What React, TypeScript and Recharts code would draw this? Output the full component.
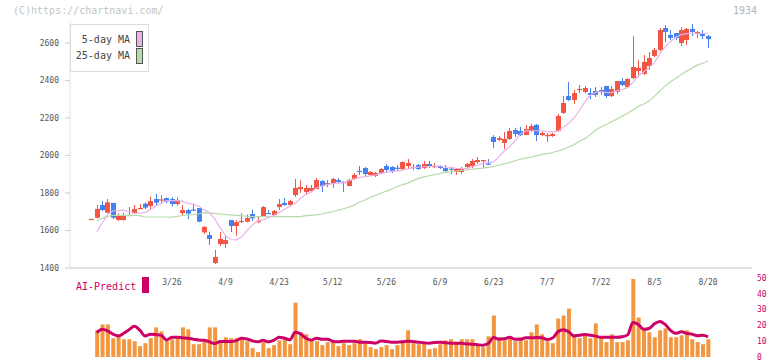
import React from 'react';
import { ComposedChart, Bar, Line, XAxis, YAxis } from 'recharts';

const MONO = '"DejaVu Sans Mono", "Liberation Mono", monospace';

const dateLabels = ['3/26', '4/9', '4/23', '5/12', '5/26', '6/9', '6/23', '7/7', '7/22', '8/5', '8/20'];
const dateLabelIdx = [15, 25, 35, 45, 55, 65, 75, 85, 95, 105, 115];

const opens = [
  1660, 1668, 1736, 1695, 1747, 1656, 1656, 1680, 1692, 1716, 1743, 1731, 1768, 1761, 1773, 1768, 1741, 1693, 1709, 1712,
  1720, 1590, 1576, 1427, 1528, 1528, 1656, 1624, 1648, 1647, 1688, 1648, 1677, 1693, 1683, 1725, 1747, 1736, 1789, 1821,
  1805, 1811, 1821, 1864, 1843, 1848, 1869, 1857, 1837, 1875, 1918, 1933, 1896, 1891, 1907, 1944, 1939, 1935, 1928, 1944,
  1937, 1949, 1933, 1955, 1939, 1944, 1933, 1930, 1912, 1912, 1939, 1944, 1965, 1976, 1957, 2099, 2083, 2067, 2088, 2136,
  2131, 2109, 2131, 2163, 2109, 2104, 2104, 2131, 2227, 2317, 2296, 2352, 2339, 2333, 2344, 2349, 2371, 2317, 2339, 2397,
  2365, 2413, 2451, 2435, 2477, 2531, 2563, 2680, 2643, 2653, 2600, 2616, 2675, 2648, 2648, 2637,
];
const closes = [
  1662, 1715, 1709, 1750, 1668, 1683, 1683, 1683, 1715, 1720, 1722, 1757, 1748, 1766, 1754, 1741, 1763, 1709, 1690, 1709,
  1647, 1619, 1555, 1459, 1555, 1549, 1624, 1645, 1651, 1667, 1665, 1651, 1725, 1690, 1704, 1741, 1736, 1757, 1827, 1832,
  1827, 1827, 1869, 1837, 1853, 1875, 1859, 1859, 1869, 1896, 1915, 1901, 1912, 1907, 1928, 1923, 1917, 1933, 1965, 1960,
  1939, 1928, 1955, 1944, 1944, 1933, 1917, 1928, 1928, 1933, 1955, 1971, 1976, 1976, 1955, 2072, 2093, 2088, 2131, 2115,
  2109, 2141, 2157, 2109, 2120, 2109, 2115, 2211, 2280, 2296, 2333, 2355, 2360, 2323, 2323, 2339, 2317, 2355, 2397, 2376,
  2408, 2472, 2467, 2499, 2520, 2563, 2669, 2659, 2627, 2627, 2669, 2675, 2659, 2659, 2637, 2621,
];
const highs = [
  1662, 1736, 1757, 1768, 1747, 1692, 1695, 1725, 1736, 1741, 1750, 1779, 1795, 1789, 1775, 1777, 1777, 1736, 1715, 1741,
  1720, 1624, 1594, 1496, 1592, 1571, 1656, 1656, 1692, 1685, 1711, 1672, 1731, 1709, 1709, 1768, 1773, 1763, 1875, 1869,
  1843, 1843, 1880, 1869, 1869, 1880, 1880, 1864, 1875, 1907, 1944, 1939, 1917, 1912, 1933, 1955, 1944, 1949, 1968, 1981,
  1955, 1955, 1971, 1971, 1960, 1949, 1949, 1939, 1933, 1939, 1960, 1981, 1992, 1976, 1981, 2109, 2104, 2125, 2147, 2147,
  2152, 2163, 2168, 2168, 2125, 2120, 2120, 2221, 2317, 2392, 2349, 2376, 2371, 2360, 2365, 2365, 2371, 2371, 2397, 2413,
  2413, 2637, 2509, 2536, 2552, 2573, 2680, 2696, 2669, 2653, 2685, 2680, 2701, 2664, 2669, 2643,
];
const lows = [
  1658, 1665, 1704, 1692, 1661, 1652, 1652, 1679, 1692, 1715, 1713, 1715, 1736, 1745, 1745, 1728, 1733, 1683, 1661, 1704,
  1644, 1581, 1523, 1421, 1517, 1507, 1592, 1571, 1640, 1644, 1651, 1640, 1677, 1688, 1677, 1709, 1731, 1731, 1779, 1800,
  1789, 1805, 1821, 1805, 1832, 1827, 1853, 1805, 1837, 1869, 1896, 1885, 1891, 1885, 1901, 1912, 1907, 1917, 1923, 1928,
  1923, 1923, 1928, 1933, 1933, 1928, 1912, 1901, 1896, 1901, 1933, 1933, 1955, 1933, 1949, 2040, 2077, 2035, 2083, 2099,
  2104, 2109, 2125, 2077, 2104, 2072, 2099, 2125, 2221, 2290, 2275, 2333, 2333, 2301, 2312, 2323, 2307, 2312, 2328, 2371,
  2360, 2408, 2419, 2429, 2456, 2525, 2557, 2605, 2616, 2616, 2584, 2589, 2637, 2627, 2621, 2573,
];
const ma5 = [
  null, 1594, 1640, 1685, 1704, 1706, 1709, 1700, 1692, 1692, 1697, 1712, 1730, 1745, 1759, 1759, 1759, 1755, 1745, 1741,
  1729, 1710, 1695, 1662, 1615, 1572, 1552, 1550, 1565, 1600, 1630, 1650, 1657, 1670, 1680, 1696, 1713, 1730, 1745, 1772,
  1793, 1806, 1828, 1838, 1845, 1850, 1853, 1855, 1864, 1876, 1882, 1887, 1891, 1897, 1905, 1910, 1915, 1918, 1922, 1928,
  1935, 1938, 1940, 1941, 1944, 1943, 1940, 1936, 1932, 1930, 1930, 1940, 1948, 1958, 1963, 1966, 1994, 2025, 2045, 2080,
  2115, 2131, 2132, 2132, 2130, 2127, 2126, 2130, 2150, 2172, 2200, 2240, 2285, 2320, 2337, 2340, 2337, 2335, 2345, 2352,
  2362, 2390, 2425, 2445, 2470, 2495, 2540, 2580, 2607, 2630, 2645, 2650, 2652, 2652, 2652, 2652,
];
const ma25 = [
  null, 1651, 1665, 1675, 1680, 1681, 1681, 1681, 1681, 1679, 1672, 1672, 1672, 1672, 1672, 1671, 1675, 1680, 1683, 1685,
  1688, 1695, 1694, 1690, 1688, 1685, 1683, 1681, 1679, 1676, 1674, 1674, 1674, 1674, 1674, 1674, 1674, 1674, 1674, 1674,
  1679, 1681, 1683, 1688, 1695, 1700, 1708, 1716, 1725, 1735, 1752, 1763, 1777, 1788, 1800, 1810, 1820, 1833, 1845, 1853,
  1866, 1878, 1886, 1892, 1898, 1904, 1910, 1913, 1917, 1920, 1923, 1927, 1930, 1933, 1937, 1942, 1948, 1955, 1963, 1972,
  1980, 1986, 1991, 1998, 2006, 2010, 2016, 2024, 2033, 2045, 2058, 2075, 2090, 2110, 2135, 2152, 2165, 2180, 2195, 2210,
  2225, 2242, 2262, 2275, 2290, 2315, 2345, 2370, 2393, 2412, 2432, 2450, 2465, 2482, 2492, 2504,
];
const volume = [
  null, 16.9, 20.6, 20.6, 11.9, 14.4, 11.25, 11.25, 10, 6.9, 8.75, 11.9, 18.75, 16.25, 10, 11.25, 13.1, 18.75, 17.5, 8.1,
  8.1, 10, 18.75, 18.75, 10, 12.5, 11.9, 11.9, 11.9, 10, 5.6, 3.1, 9.4, 5.6, 7.5, 10.6, 11.25, 8.1, 34.4, 15.6,
  14.4, 10.6, 10, 7.5, 9.4, 9.4, 6.9, 8.75, 7.5, 8.75, 11.25, 8.75, 6.25, 5, 6.25, 7.5, 5, 7.5, 9.4, 16.9,
  8.75, 8.1, 8.75, 5, 5.6, 8.1, 10.6, 11.25, 8.1, 11.25, 11.25, 11.25, 8.1, 6.25, 13.1, 26.25, 12.5, 10.6, 13.1, 10,
  12.5, 10.6, 15.6, 20.6, 14.4, 10, 8.75, 24.4, 26.25, 30.6, 14.4, 11.9, 14.4, 11.9, 21.25, 12.5, 9.4, 14.4, 9.4, 9.4,
  10.6, 49.4, 25, 17.5, 15.6, 12.5, 16.9, 18.1, 12.5, 12.5, 13.75, 16.9, 11.25, 9.4, 8.1, 11.25,
];
const aiPredict = [
  null, 15.4, 17.5, 16.5, 14.5, 13.3, 15.0, 17.3, 19.4, 17, 13.3, 14.4, 14.2, 13.7, 10.8, 12.5, 12.5, 12.1, 11.8, 11.3,
  10.7, 10.6, 9.6, 8.5, 9.8, 9.8, 9.8, 10.4, 11.9, 11.4, 10.2, 9.6, 10.6, 9.6, 10.6, 12.5, 11.9, 10.8, 15.6, 14.6,
  11.9, 10.8, 11.9, 11.25, 11.25, 10, 9.6, 10, 10, 10, 9.4, 9.4, 9.2, 8.75, 10.2, 9.8, 9.4, 9.4, 9.6, 10,
  9.8, 9.4, 9.0, 8.75, 9.2, 9.4, 9.0, 8.75, 8.75, 8.75, 8.2, 8.1, 7.8, 7.5, 8.5, 12.3, 11.25, 11.5, 12.5, 11.2,
  11.2, 12.2, 12.2, 12.3, 12.2, 11, 12, 16, 17.3, 16, 13.3, 13.8, 14.2, 13.8, 13.2, 12.5, 12.5, 12.5, 12.5, 12.8,
  14, 21.9, 20.6, 17.5, 18, 21, 22.5, 20.6, 16.8, 15, 16, 15, 14.5, 13.4, 13.75, 12.8,
];

const priceTicks = [1400, 1600, 1800, 2000, 2200, 2400, 2600];
const aiTicks = [0, 10, 20, 30, 40, 50];

const X_DOMAIN: [number, number] = [-4.01, 123.2];
const gridTicks = Array.from({ length: 12 }, (_, k) => X_DOMAIN[0] + (k * (X_DOMAIN[1] - X_DOMAIN[0])) / 11);

const RED = '#f25544';
const BLUE = '#4680ee';
const PINK = '#e8b2e8';
const GREEN = '#b4dba9';
const MAGENTA = '#cc0066';
const ORANGE = '#f2963f';

const rows = opens.map((o, i) => ({
  i,
  o,
  h: highs[i],
  l: lows[i],
  c: closes[i],
  range: [lows[i], highs[i]],
  ma5: ma5[i],
  ma25: ma25[i],
  vol: volume[i],
  ai: aiPredict[i],
}));

const Candle = (props: any) => {
  const { x, y, width, height, payload } = props;
  if (x == null || y == null || !payload) return null;
  const { o, c, h, l } = payload;
  const top = Math.min(y, y + height);
  const bot = Math.max(y, y + height);
  const span = h - l;
  const toPx = (v: number) => (span === 0 ? top : top + ((h - v) / span) * (bot - top));
  const color = c >= o ? RED : BLUE;
  const cx = Math.round(x + width / 2) + 0.5;
  const yo = toPx(o);
  const yc = toPx(c);
  const bTop = Math.min(yo, yc);
  const bH = Math.max(1.2, Math.abs(yo - yc));
  return (
    <g>
      <line x1={cx} x2={cx} y1={top} y2={bot} stroke={color} strokeWidth={1} />
      <rect x={cx - 2.5} y={bTop} width={5} height={bH} fill={color} />
    </g>
  );
};

const axisText = { fill: '#555', fontSize: 8, fontFamily: MONO };

export default function App() {
  return (
    <div style={{ position: 'absolute', left: 0, top: 0, width: 772, height: 361, background: '#fff', fontFamily: MONO, overflow: 'hidden' }}>
      <div style={{ position: 'absolute', left: 0, top: 0 }}>
        <ComposedChart width={772} height={290} data={rows} margin={{ top: 22, right: 20, bottom: 0, left: 0 }}>
          <XAxis
            xAxisId="b"
            dataKey="i"
            type="number"
            domain={X_DOMAIN}
            allowDataOverflow
            ticks={dateLabelIdx}
            interval={0}
            tickFormatter={(v: number) => dateLabels[dateLabelIdx.indexOf(v)] ?? ''}
            tick={axisText}
            tickSize={0}
            tickMargin={7}
            height={18}
            axisLine={false}
            tickLine={false}
          />
          <XAxis
            xAxisId="a"
            dataKey="i"
            type="number"
            domain={X_DOMAIN}
            allowDataOverflow
            ticks={gridTicks}
            interval={0}
            tick={false}
            tickSize={4}
            height={4}
            axisLine={{ stroke: '#e2e2e2', strokeWidth: 2 }}
            tickLine={{ stroke: '#e2e2e2', strokeWidth: 2 }}
          />
          <YAxis
            type="number"
            domain={[1400, 2712]}
            allowDataOverflow
            ticks={priceTicks}
            interval={0}
            width={70}
            tick={axisText}
            tickSize={5}
            tickMargin={6}
            axisLine={{ stroke: '#e2e2e2' }}
            tickLine={{ stroke: '#cfcfcf' }}
          />
          <Line xAxisId="a" dataKey="ma25" stroke={GREEN} strokeWidth={1.2} dot={false} activeDot={false} isAnimationActive={false} type="linear" />
          <Line xAxisId="a" dataKey="ma5" stroke={PINK} strokeWidth={1.2} dot={false} activeDot={false} isAnimationActive={false} type="linear" />
          <Bar xAxisId="a" dataKey="range" barSize={5} shape={Candle} isAnimationActive={false} />
        </ComposedChart>
      </div>

      <div style={{ position: 'absolute', left: 0, top: 270 }}>
        <ComposedChart width={772} height={91} data={rows} margin={{ top: 8, right: 0, bottom: 4, left: 70 }}>
          <XAxis dataKey="i" type="number" domain={X_DOMAIN} allowDataOverflow hide />
          <YAxis
            orientation="right"
            type="number"
            domain={[0, 50]}
            allowDataOverflow
            ticks={aiTicks}
            interval={0}
            width={20}
            tick={{ fill: MAGENTA, fontSize: 8, fontFamily: MONO }}
            tickSize={0}
            tickMargin={5}
            axisLine={false}
            tickLine={false}
          />
          <Bar dataKey="vol" fill={ORANGE} barSize={4} isAnimationActive={false} />
          <Line dataKey="ai" stroke={MAGENTA} strokeWidth={3} dot={false} activeDot={false} isAnimationActive={false} type="monotone" />
        </ComposedChart>
      </div>

      <div style={{ position: 'absolute', left: 13, top: 5, fontSize: 10, lineHeight: '12px', color: '#c4c4c4', whiteSpace: 'nowrap' }}>
        (C)https://chartnavi.com/
      </div>
      <div style={{ position: 'absolute', left: 733, top: 5, fontSize: 10, lineHeight: '12px', color: '#b4b4b4' }}>1934</div>

      <div style={{ position: 'absolute', left: 70, top: 24, width: 77, height: 46, border: '1px solid #dcdcdc', background: '#fff' }} />
      <div style={{ position: 'absolute', right: 642, top: 33.5, fontSize: 10, lineHeight: '12px', color: '#444', whiteSpace: 'nowrap' }}>5-day MA</div>
      <div style={{ position: 'absolute', right: 642, top: 50, fontSize: 10, lineHeight: '12px', color: '#444', whiteSpace: 'nowrap' }}>25-day MA</div>
      <div style={{ position: 'absolute', left: 136, top: 31, width: 5, height: 14, border: '1px solid #555', background: PINK }} />
      <div style={{ position: 'absolute', left: 136, top: 48, width: 5, height: 14, border: '1px solid #555', background: GREEN }} />

      <div style={{ position: 'absolute', left: 76, top: 280.5, fontSize: 10, lineHeight: '12px', color: MAGENTA, whiteSpace: 'nowrap' }}>AI-Predict</div>
      <div style={{ position: 'absolute', left: 142, top: 277, width: 7, height: 16, background: MAGENTA }} />
    </div>
  );
}
